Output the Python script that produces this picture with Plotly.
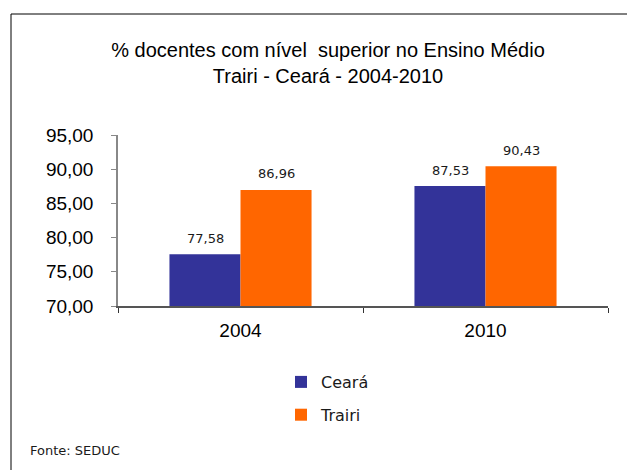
import plotly.graph_objects as go

categories = ["2004", "2010"]
ceara = [77.58, 87.53]
trairi = [86.96, 90.43]
series_names = ["Ceará", "Trairi"]
y_tick_vals = [70, 75, 80, 85, 90, 95]

W, H = 627, 470
PX0, PX1, PY0, PY1 = 118, 608, 135, 306  # plot area in pixels


def px(x):
    return (x - PX0) / (PX1 - PX0)


def py(y):
    return (PY1 - y) / (PY1 - PY0)


colors = ["#333399", "#FF6600"]
fig = go.Figure()
for name, vals, col in zip(series_names, [ceara, trairi], colors):
    fig.add_trace(go.Bar(x=categories, y=vals, name=name, marker_color=col,
                         marker_line_width=0, legendgroup=name, cliponaxis=False))

# value labels above bars
bar_w = 71
for vals, shift in [(ceara, -bar_w / 2), (trairi, bar_w / 2)]:
    for i, v in enumerate(vals):
        fig.add_annotation(x=i, y=v, text=f"{v:.2f}".replace(".", ","),
                           showarrow=False, xshift=shift, yshift=16,
                           font=dict(family="DejaVu Sans", size=13, color="#1a1a1a"),
                           xref="x", yref="y")

fig.add_annotation(text="Fonte: SEDUC", x=px(28), y=py(450), xref="paper", yref="paper",
                   xanchor="left", yanchor="middle", showarrow=False,
                   font=dict(family="DejaVu Sans", size=13, color="#1a1a1a"))

fig.add_shape(type="rect", xref="paper", yref="paper",
              x0=px(11), x1=px(700), y0=py(14), y1=py(520),
              line=dict(color="black", width=1), fillcolor="rgba(0,0,0,0)", layer="above")

fig.update_layout(
    width=W, height=H,
    margin=dict(l=PX0, r=W - PX1, t=PY0, b=H - PY1, autoexpand=False),
    paper_bgcolor="white", plot_bgcolor="white",
    separators=",.",
    barmode="group", bargap=0.42, bargroupgap=0,
    title=dict(text="% docentes com nível  superior no Ensino Médio<br>Trairi - Ceará - 2004-2010",
               x=328 / W, xanchor="center", xref="container",
               y=1 - 57 / H, yanchor="middle", yref="container",
               font=dict(family="Liberation Sans, Arial", size=20, color="black")),
    showlegend=True,
    legend=dict(x=px(281), y=py(365), xanchor="left", yanchor="top",
                orientation="v", traceorder="grouped", tracegroupgap=9,
                font=dict(family="DejaVu Sans", size=16, color="#1a1a1a"),
                bgcolor="rgba(0,0,0,0)"),
    xaxis=dict(type="category", range=[-0.5, 1.5], showline=True, linecolor="#555555", linewidth=1.5,
               ticks="outside", tickson="boundaries", ticklen=5, tickcolor="#333333",
               ticklabelstandoff=6, showgrid=False, tickangle=0,
               tickfont=dict(family="Liberation Sans, Arial", size=19, color="black")),
    yaxis=dict(range=[70, 95], tickvals=y_tick_vals, tickformat=".2f",
               showline=True, linecolor="#888888", linewidth=1.5,
               ticks="outside", ticklen=5, tickcolor="#888888", showgrid=False,
               zeroline=False, ticklabelstandoff=14,
               tickfont=dict(family="Liberation Sans, Arial", size=19, color="black")),
)

fig.write_html("out.html", config={"displayModeBar": False},
               post_script="document.body.style.margin='0';document.body.style.overflow='hidden';")
